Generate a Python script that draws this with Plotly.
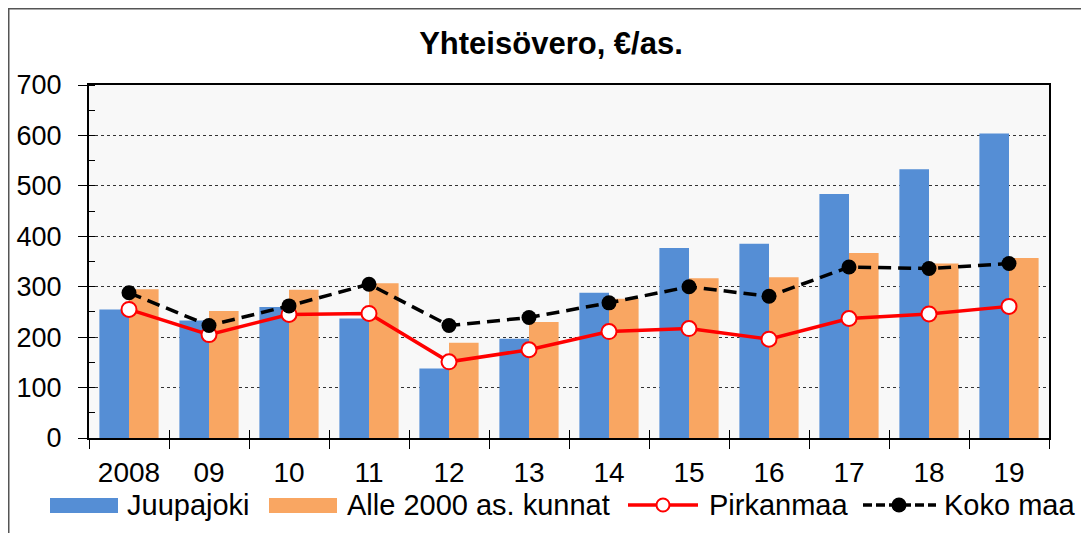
import plotly.graph_objects as go

years = ["2008", "09", "10", "11", "12", "13", "14", "15", "16", "17", "18", "19"]
juupajoki = [255, 233, 260, 237, 138, 197, 288, 377, 385, 484, 533, 604]
alle2000 = [295, 252, 294, 307, 189, 230, 276, 317, 319, 367, 346, 357]
pirkanmaa = [255, 205, 245, 247, 151, 175, 211, 217, 196, 237, 246, 261]
koko_maa = [288, 223, 262, 305, 223, 239, 268, 300, 281, 339, 336, 346]
series_names = ["Juupajoki", "Alle 2000 as. kunnat", "Pirkanmaa", "Koko maa"]

FONT = "Liberation Sans, Arial, sans-serif"
BLUE, ORANGE, RED = "#558ed5", "#f9a662", "#ff0000"

# page offset of the plot div (default body margin)
OFF = 8
W, H = 1089 - OFF, 533 - OFF
L, T = 89 - OFF, 85 - OFF
R = W - (1049 - OFF)
B = H - (438 - OFF)
pw, ph = W - L - R, H - T - B


def px(xp):
    return (xp - OFF - L) / pw


def py(yp):
    return ((438 - OFF) - (yp - OFF)) / ph


fig = go.Figure()
fig.add_trace(go.Bar(x=years, y=juupajoki, name=series_names[0], showlegend=False,
                     marker=dict(color=BLUE, line=dict(width=0))))
fig.add_trace(go.Bar(x=years, y=alle2000, name=series_names[1], showlegend=False,
                     marker=dict(color=ORANGE, line=dict(width=0))))
fig.add_trace(go.Scatter(x=years, y=pirkanmaa, name=series_names[2], mode="lines+markers",
                         showlegend=False, line=dict(color=RED, width=3.5),
                         marker=dict(size=15, color="white", line=dict(color=RED, width=2))))
fig.add_trace(go.Scatter(x=years, y=koko_maa, name=series_names[3], mode="lines+markers",
                         showlegend=False, line=dict(color="black", width=3.5, dash="13px,7px"),
                         marker=dict(size=15, color="black")))
# helper trace for the inner half of the crossing x ticks
fig.add_trace(go.Scatter(x=[0], y=[0], xaxis="x2", mode="markers",
                         marker=dict(opacity=0), showlegend=False, hoverinfo="skip"))

fig.update_layout(
    width=W, height=H,
    margin=dict(l=L, r=R, t=T, b=B, autoexpand=False),
    paper_bgcolor="white",
    plot_bgcolor="#f8f8f8",
    barmode="group",
    bargap=0.26,
    bargroupgap=0,
    font=dict(family=FONT, color="black"),
    title=dict(text="<b>Yhteisövero, €/as.</b>", font=dict(size=31, family=FONT, color="black"),
               x=(551 - OFF) / W, xanchor="center", xref="container",
               y=1 - (43 - OFF) / H, yanchor="middle", yref="container"),
    showlegend=False,
    xaxis=dict(type="category", tickson="boundaries", ticks="outside", ticklen=9,
               tickcolor="black", tickwidth=1, showline=True, linecolor="black", linewidth=2,
               mirror=True, showgrid=False, tickfont=dict(size=28, family=FONT),
               ticklabelstandoff=8, range=[-0.5, 11.5], automargin=False),
    xaxis2=dict(overlaying="x", anchor="y", range=[-0.5, 11.5], tickmode="array",
                tickvals=[i - 0.5 for i in range(13)], ticks="inside", ticklen=8,
                tickcolor="black", tickwidth=1, showticklabels=False, showgrid=False,
                showline=False, zeroline=False, fixedrange=True, automargin=False),
    yaxis=dict(range=[0, 700], dtick=100, ticks="outside", ticklen=9, tickcolor="black",
               tickwidth=1, showline=True, linecolor="black", linewidth=2, mirror=True,
               showgrid=True, gridcolor="#333333", griddash="dot", gridwidth=1,
               zeroline=False, tickfont=dict(size=27, family=FONT), ticklabelstandoff=11,
               automargin=False,
               minor=dict(dtick=50, ticks="inside", ticklen=6, tickcolor="black", showgrid=False)),
)

# outer chart border (top and left visible, extending past right/bottom)
fig.add_shape(type="rect", xref="paper", yref="paper",
              x0=px(OFF + 0.75), x1=px(1100), y0=py(560), y1=py(OFF + 0.75),
              line=dict(color="#555555", width=1.5), fillcolor="rgba(0,0,0,0)", layer="below")

# ---- manual legend (wide swatches as in the reference) ----
LY = 505
# bar swatches
for (x0, x1, col) in [(50, 118, BLUE), (269, 337, ORANGE)]:
    fig.add_shape(type="rect", xref="paper", yref="paper", x0=px(x0), x1=px(x1),
                  y0=py(513), y1=py(498), line=dict(width=0), fillcolor=col)
# Pirkanmaa swatch
fig.add_shape(type="line", xref="paper", yref="paper", x0=px(628), x1=px(698),
              y0=py(LY), y1=py(LY), line=dict(color=RED, width=3.5))
fig.add_shape(type="circle", xref="paper", yref="paper", x0=px(663 - 6.5), x1=px(663 + 6.5),
              y0=py(LY + 6.5), y1=py(LY - 6.5), line=dict(color=RED, width=2), fillcolor="white")
# Koko maa swatch
fig.add_shape(type="line", xref="paper", yref="paper", x0=px(863), x1=px(936),
              y0=py(LY), y1=py(LY), line=dict(color="black", width=3.5, dash="9px,4px"))
fig.add_shape(type="circle", xref="paper", yref="paper", x0=px(899 - 7.5), x1=px(899 + 7.5),
              y0=py(LY + 7.5), y1=py(LY - 7.5), line=dict(color="black", width=0), fillcolor="black")

for name, xl in zip(series_names, [125, 345, 707, 942]):
    fig.add_annotation(text=name, xref="paper", yref="paper", x=px(xl), y=py(LY),
                       xanchor="left", yanchor="middle", showarrow=False,
                       font=dict(size=29, family=FONT, color="black"))

fig.write_html("out.html")
